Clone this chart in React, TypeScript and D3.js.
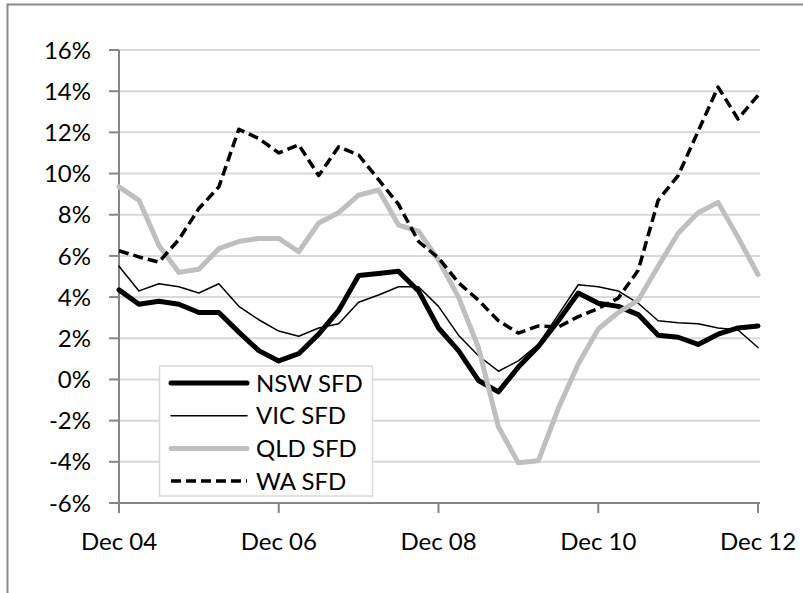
import React from "react";
import * as d3 from "d3";

const categories = [
  "Dec 04", "Mar 05", "Jun 05", "Sep 05", "Dec 05", "Mar 06", "Jun 06", "Sep 06",
  "Dec 06", "Mar 07", "Jun 07", "Sep 07", "Dec 07", "Mar 08", "Jun 08", "Sep 08",
  "Dec 08", "Mar 09", "Jun 09", "Sep 09", "Dec 09", "Mar 10", "Jun 10", "Sep 10",
  "Dec 10", "Mar 11", "Jun 11", "Sep 11", "Dec 11", "Mar 12", "Jun 12", "Sep 12",
  "Dec 12",
];

const nsw = [4.35, 3.65, 3.8, 3.65, 3.25, 3.25, 2.3, 1.4, 0.9, 1.25, 2.2, 3.35, 5.05, 5.15, 5.25, 4.3, 2.5, 1.4, -0.05, -0.6, 0.6, 1.6, 2.85, 4.2, 3.7, 3.55, 3.15, 2.15, 2.05, 1.7, 2.2, 2.5, 2.6];
const vic = [5.5, 4.3, 4.65, 4.5, 4.2, 4.65, 3.55, 2.9, 2.35, 2.1, 2.5, 2.7, 3.75, 4.1, 4.5, 4.5, 3.55, 2.15, 1.15, 0.4, 0.9, 1.7, 3.15, 4.6, 4.5, 4.3, 3.7, 2.85, 2.75, 2.7, 2.5, 2.4, 1.55];
const qld = [9.35, 8.7, 6.5, 5.2, 5.35, 6.35, 6.7, 6.85, 6.85, 6.2, 7.6, 8.1, 8.95, 9.2, 7.5, 7.2, 5.8, 4.0, 1.55, -2.3, -4.05, -3.95, -1.4, 0.75, 2.45, 3.25, 3.85, 5.5, 7.1, 8.1, 8.6, 6.9, 5.1];
const wa = [6.25, 5.95, 5.7, 6.8, 8.3, 9.35, 12.15, 11.7, 11.0, 11.4, 9.9, 11.3, 10.9, 9.7, 8.5, 6.7, 5.9, 4.7, 3.85, 2.85, 2.25, 2.6, 2.55, 3.05, 3.45, 3.95, 5.3, 8.7, 9.9, 12.05, 14.2, 12.65, 13.8];

const seriesNames = ["NSW SFD", "VIC SFD", "QLD SFD", "WA SFD"];
const xTickLabels = ["Dec 04", "Dec 06", "Dec 08", "Dec 10", "Dec 12"];
const yTicks = [-6, -4, -2, 0, 2, 4, 6, 8, 10, 12, 14, 16];

const FONT = "Lato, 'Liberation Sans', sans-serif";
const FS = 24;
const FW = 400;

export default function App() {
  const W = 803;
  const H = 593;
  const x = d3.scalePoint<string>().domain(categories).range([119, 758]);
  const y = d3.scaleLinear().domain([-6, 16]).range([503, 50]);
  const xEnd = 760;

  const styles = [
    { data: nsw, stroke: "#000000", width: 5, dash: "" },
    { data: vic, stroke: "#000000", width: 1.5, dash: "" },
    { data: qld, stroke: "#bfbfbf", width: 5, dash: "" },
    { data: wa, stroke: "#000000", width: 3.5, dash: "10,5" },
  ];

  const line = d3
    .line<number>()
    .x((_, i) => x(categories[i]) as number)
    .y((d) => y(d));

  const legX = 159.5;
  const legY = 366;
  const legW = 213;
  const legH = 130;
  const rowH = 32.7;

  return (
    <svg
      width={W}
      height={H}
      style={{ position: "absolute", left: 0, top: 0, background: "#fff" }}
      fontFamily={FONT}
      fontWeight={FW}
    >
      <rect x={0} y={0} width={W} height={H} fill="#fff" />
      <path d="M7.5,593 V4.5 H803" fill="none" stroke="#8a8a8a" strokeWidth={2} />

      {yTicks.map((t) => (
        <line key={"g" + t} x1={119} x2={xEnd} y1={y(t)} y2={y(t)} stroke="#d9d9d9" strokeWidth={2} />
      ))}

      <line x1={119} x2={119} y1={y(16)} y2={y(-6)} stroke="#868686" strokeWidth={2} />
      {yTicks.map((t) => (
        <g key={"yt" + t}>
          <line x1={109} x2={119} y1={y(t)} y2={y(t)} stroke="#868686" strokeWidth={2} />
          <text x={91} y={y(t)} dy="0.36em" textAnchor="end" fontSize={FS} fill="#000">
            {t + "%"}
          </text>
        </g>
      ))}

      <line x1={118} x2={xEnd} y1={y(-6)} y2={y(-6)} stroke="#868686" strokeWidth={2} />
      {xTickLabels.map((c) => (
        <g key={"xt" + c}>
          <line x1={x(c)} x2={x(c)} y1={y(-6)} y2={y(-6) + 10} stroke="#868686" strokeWidth={2} />
          <text x={x(c)} y={550} textAnchor="middle" fontSize={FS} fill="#000">
            {c}
          </text>
        </g>
      ))}

      {styles.map((s, i) => (
        <path
          key={"s" + i}
          d={line(s.data) || ""}
          fill="none"
          stroke={s.stroke}
          strokeWidth={s.width}
          strokeDasharray={s.dash || undefined}
          strokeLinejoin="round"
          strokeLinecap={s.dash ? "butt" : "round"}
        />
      ))}

      <rect x={legX} y={legY} width={legW} height={legH} fill="#fff" stroke="#d9d9d9" strokeWidth={1.5} />
      {seriesNames.map((n, i) => {
        const cy = legY + 17 + i * rowH;
        const s = styles[i];
        return (
          <g key={"l" + i}>
            <line
              x1={171}
              x2={247}
              y1={cy}
              y2={cy}
              stroke={s.stroke}
              strokeWidth={s.width}
              strokeDasharray={s.dash || undefined}
              strokeLinecap={s.dash ? "butt" : "round"}
            />
            <text x={256} y={cy} dy="0.36em" fontSize={FS} fill="#000">
              {n}
            </text>
          </g>
        );
      })}
    </svg>
  );
}
